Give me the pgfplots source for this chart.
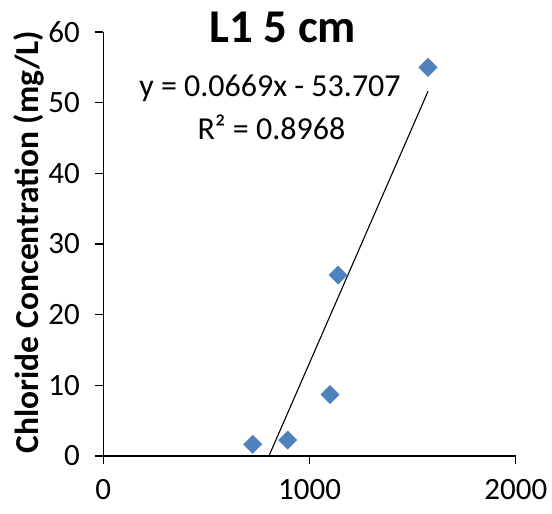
\documentclass[border=0pt]{standalone}
\usepackage{pgfplots}
\pgfplotsset{compat=1.18}
\usepackage{fontspec}
\setmainfont{Carlito}
\definecolor{xlblue}{HTML}{4F81BD}
\begin{document}
\begin{tikzpicture}
\useasboundingbox (-103.3pt,-58pt) rectangle (448.7pt,456pt);
\begin{axis}[
  at={(0,0)}, anchor=origin,
  scale only axis, width=412.6pt, height=424pt,
  xmin=0, xmax=2000, ymin=0, ymax=60,
  xtick={0,1000,2000}, ytick={0,10,...,60},
  axis x line=bottom, axis y line=left,
  axis line style={-, line width=1.2pt},
  tick style={line width=1.2pt, black},
  tick align=outside, major tick length=8pt,
  ticklabel style={font=\fontsize{31}{34}\selectfont},
  /pgf/number format/assume math mode=true,
  /pgf/number format/1000 sep={},
  xticklabel style={yshift=-12pt},
  yticklabel style={xshift=-12pt},
  clip=false,
]
\addplot[only marks, mark=square*, mark size=6.5pt, mark options={rotate=45}, color=xlblue] coordinates {
  (724,1.65) (894,2.26) (1099,8.7) (1138,25.6) (1574,55.0)};
\addplot[black, line width=1.1pt] coordinates {(802.8,0) (1574,51.6)};
\node[font=\fontsize{32}{34}\selectfont, anchor=center] at (axis cs:808,52.1) {y = 0.0669x - 53.707};
\node[font=\fontsize{32}{34}\selectfont, anchor=center] at (axis cs:815,46.5) {R² = 0.8968};
\node[font=\bfseries\fontsize{47}{50}\selectfont, anchor=center] at (axis cs:870,60.6) {L1 5 cm};
\node[font=\bfseries\fontsize{33.5}{37}\selectfont, rotate=90, anchor=center]
  at ([xshift=-74pt]rel axis cs:0,0.505) {Chloride Concentration (mg/L)};
\end{axis}
\end{tikzpicture}
\end{document}
